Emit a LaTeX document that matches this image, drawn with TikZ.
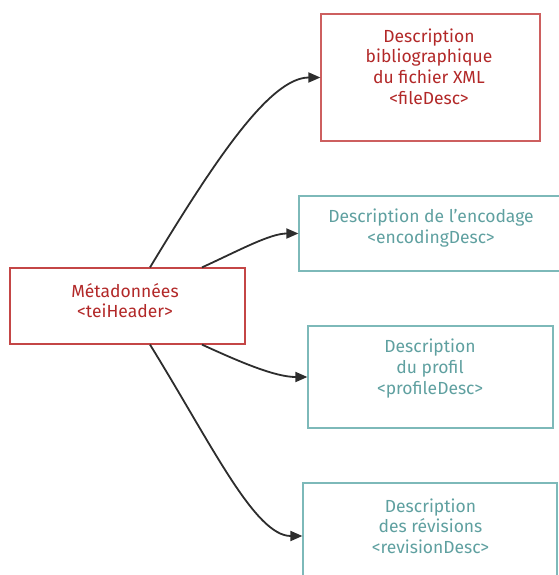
\documentclass[tikz,border=0pt]{standalone}
\usepackage{fontspec}
\setmainfont{Fira Sans}
\usetikzlibrary{arrows.meta}
\definecolor{redtxt}{RGB}{178,40,40}
\definecolor{redline}{RGB}{196,70,70}
\definecolor{redline2}{RGB}{205,95,95}
\definecolor{tealtxt}{RGB}{95,160,160}
\definecolor{tealline}{RGB}{125,185,185}
\definecolor{edgecol}{RGB}{45,45,45}
\tikzset{
  x=1pt, y=-1pt,
  box/.style={draw, line width=1.2pt, minimum width=#1, inner sep=0pt, anchor=center},
  redbox/.style={box=#1, draw=redline2},
  tealbox/.style={box=#1, draw=tealline},
  lbl/.style={align=center, font=\fontsize{17.5}{20.7}\selectfont, inner sep=0pt},
  redlbl/.style={lbl, text=redtxt},
  teallbl/.style={lbl, text=tealtxt},
  edge/.style={draw=edgecol, line width=1.8pt, -{Triangle[length=12pt,width=10pt]}}
}
\begin{document}
\begin{tikzpicture}
\useasboundingbox (0,0) rectangle (558,575);
% boxes
\node[redbox=235pt, draw=redline, minimum height=76pt] (tei) at (127.5,306) {};
\node[redbox=219pt, minimum height=127pt] (file) at (430.5,77.5) {};
\node[tealbox=264pt, minimum height=75pt] (enc) at (431,233.5) {};
\node[tealbox=245pt, minimum height=102pt] (prof) at (430.5,377) {};
\node[tealbox=254pt, minimum height=106pt] (rev) at (430,536) {};
% labels
\node[redlbl] (teit) at (125,300.5) {Métadonnées\\ <teiHeader>};
\node[redlbl] (filet) at (429,66.5) {Description\\bibliographique\\ du fichier XML\\<fileDesc>};
\node[teallbl] (enct) at (431,228) {Description de l’encodage\\<encodingDesc>};
\node[teallbl] (proft) at (430,368.5) {Description\\ du profil\\<profileDesc>};
\node[teallbl] (revt) at (430.5,526) {Description\\ des révisions\\<revisionDesc>};
% connectors
\draw[edge] ([xshift=22.5pt]tei.north) .. controls (215,160) and (270,77.5) .. (file.west);
\draw[edge] ([xshift=74.5pt]tei.north) .. controls (240,250) and (270,233.5) .. (enc.west);
\draw[edge] ([xshift=74.5pt]tei.south) .. controls (240,362) and (275,377) .. (prof.west);
\draw[edge] ([xshift=22.5pt]tei.south) .. controls (212,445) and (255,536) .. (rev.west);
\end{tikzpicture}
\end{document}
